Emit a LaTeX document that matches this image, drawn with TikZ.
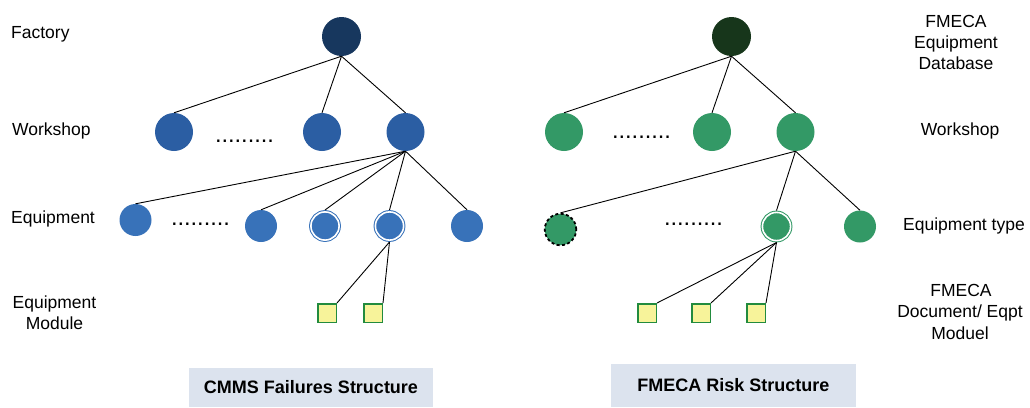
\documentclass[tikz,border=0pt]{standalone}
\usepackage{fontspec}
\setmainfont{Liberation Sans}
\definecolor{cmmsroot}{RGB}{23,55,94}
\definecolor{cmmsws}{RGB}{43,94,163}
\definecolor{cmmseq}{RGB}{56,114,185}
\definecolor{fmroot}{RGB}{23,54,27}
\definecolor{fmgreen}{RGB}{51,153,102}
\definecolor{sqfill}{RGB}{247,243,154}
\definecolor{sqdraw}{RGB}{34,139,62}
\definecolor{boxfill}{RGB}{220,227,238}
\tikzset{
  rootnode/.style={circle,inner sep=0pt,minimum size=39pt,fill=#1},
  wsnode/.style={circle,inner sep=0pt,minimum size=38pt,fill=#1},
  eqnode/.style={circle,inner sep=0pt,minimum size=32pt,fill=#1},
  dblnode/.style={circle,inner sep=0pt,minimum size=28.2pt,fill=#1,draw=#1,line width=1pt,double=white,double distance=1.6pt,outer sep=1.9pt},
  dashnode/.style={circle,inner sep=0pt,minimum size=31.5pt,fill=fmgreen,draw=black,line width=1.8pt,dash pattern=on 3pt off 2.4pt},
  sqnode/.style={rectangle,inner sep=0pt,minimum size=18.5pt,fill=sqfill,draw=sqdraw,line width=1.5pt},
  conn/.style={draw=black,line width=0.9pt},
  lbl/.style={inner sep=0pt,font=\fontsize{17.5}{21}\selectfont},
  dots/.style={inner sep=0pt,anchor=base west,font=\fontsize{23.6}{24}\selectfont},
  titlebox/.style={rectangle,inner sep=0pt,fill=boxfill,font=\fontsize{18}{21}\selectfont\bfseries}
}
\begin{document}
\begin{tikzpicture}[x=1pt,y=-1pt]
\useasboundingbox (0,0) rectangle (1030,407);
% ---------- left tree (CMMS) ----------
\node[rootnode=cmmsroot] (LR) at (341.5,36.5) {};
\node[wsnode=cmmsws] (LW1) at (174,132) {};
\node[wsnode=cmmsws] (LW2) at (322,132) {};
\node[wsnode=cmmsws] (LW3) at (405.5,132) {};
\node[dots] (LD1) at (214.8,142.2) {.........};
\node[eqnode=cmmseq] (LE1) at (135.5,220) {};
\node[eqnode=cmmseq] (LE2) at (261,226) {};
\node[dblnode=cmmseq] (LE3) at (325,226) {};
\node[dblnode=cmmseq] (LE4) at (389.5,226) {};
\node[eqnode=cmmseq] (LE5) at (467,226) {};
\node[dots] (LD2) at (170.8,225.2) {.........};
\node[sqnode] (LS1) at (327,313) {};
\node[sqnode] (LS2) at (373,313) {};
\draw[conn] (LR.south) -- (LW1.north);
\draw[conn] (LR.south) -- (LW2.north);
\draw[conn] (LR.south) -- (LW3.north);
\draw[conn] (LW3.south) -- (LE1.north);
\draw[conn] (LW3.south) -- (LE2.north);
\draw[conn] (LW3.south) -- (LE3.north);
\draw[conn] (LW3.south) -- (LE4.north);
\draw[conn] (LW3.south) -- (LE5.north);
\draw[conn] (LE4.south) -- (LS1.north east);
\draw[conn] (LE4.south) -- (LS2.north east);
% ---------- right tree (FMECA) ----------
\node[rootnode=fmroot] (RR) at (731.5,36.5) {};
\node[wsnode=fmgreen] (RW1) at (564,132) {};
\node[wsnode=fmgreen] (RW2) at (712,132) {};
\node[wsnode=fmgreen] (RW3) at (795.5,132) {};
\node[dots] (RD1) at (611.8,138.3) {.........};
\node[dashnode] (RE1) at (560.5,229.5) {};
\node[dblnode=fmgreen] (RE2) at (776.5,226.5) {};
\node[eqnode=fmgreen] (RE3) at (860,226.5) {};
\node[dots] (RD2) at (663.8,225.2) {.........};
\node[sqnode] (RS1) at (647,313) {};
\node[sqnode] (RS2) at (701,313) {};
\node[sqnode] (RS3) at (756,313) {};
\draw[conn] (RR.south) -- (RW1.north);
\draw[conn] (RR.south) -- (RW2.north);
\draw[conn] (RR.south) -- (RW3.north);
\draw[conn] (RW3.south) -- (RE1.north);
\draw[conn] (RW3.south) -- (RE2.north);
\draw[conn] (RW3.south) -- (RE3.north);
\draw[conn] (RE2.south) -- (RS1.north east);
\draw[conn] (RE2.south) -- (RS2.north east);
\draw[conn] (RE2.south) -- (RS3.north east);
% ---------- left labels ----------
\node[lbl,anchor=base west] (tFactory) at (11,38) {Factory};
\node[lbl,anchor=base west] (tWorkshopL) at (12,135) {Workshop};
\node[lbl,anchor=base west] (tEquipmentL) at (11,223) {Equipment};
\node[lbl,anchor=base] (tEqModA) at (54.5,308) {Equipment};
\node[lbl,anchor=base] (tEqModB) at (54.5,329) {Module};
% ---------- right labels ----------
\node[lbl,anchor=base] (tDbA) at (956,27) {FMECA};
\node[lbl,anchor=base] (tDbB) at (956,48) {Equipment};
\node[lbl,anchor=base] (tDbC) at (956,69) {Database};
\node[lbl,anchor=base] (tWorkshopR) at (960,135) {Workshop};
\node[lbl,anchor=base] (tEqType) at (964,230) {Equipment type};
\node[lbl,anchor=base] (tDocA) at (961,296) {FMECA};
\node[lbl,anchor=base] (tDocB) at (960,317) {Document/ Eqpt};
\node[lbl,anchor=base] (tDocC) at (960,339) {Moduel};
% ---------- bottom titles ----------
\node[titlebox,minimum width=244pt,minimum height=39pt] (tCMMS) at (311,387.5) {CMMS Failures Structure};
\node[titlebox,minimum width=245pt,minimum height=43pt] (tFMECA) at (733.5,385.5) {FMECA Risk Structure};
\end{tikzpicture}
\end{document}
